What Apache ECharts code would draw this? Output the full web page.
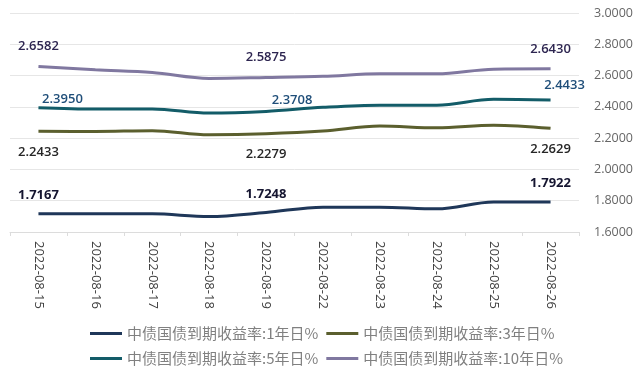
<!DOCTYPE html>
<html>
<head>
<meta charset="utf-8">
<script src="https://cdn.jsdelivr.net/npm/echarts@6/dist/echarts.min.js"></script>
<style>html,body{margin:0;padding:0;background:#fff;}#c{width:640px;height:373px;}</style>
</head>
<body>
<div id="c"></div>
<script>
var dates = ['2022-08-15','2022-08-16','2022-08-17','2022-08-18','2022-08-19','2022-08-22','2022-08-23','2022-08-24','2022-08-25','2022-08-26'];
var y1 = [1.7167, 1.7170, 1.7165, 1.6990, 1.7248, 1.7590, 1.7590, 1.7480, 1.7920, 1.7922];
var y3 = [2.2433, 2.2430, 2.2480, 2.2220, 2.2279, 2.2450, 2.2780, 2.2660, 2.2830, 2.2629];
var y5 = [2.3950, 2.3860, 2.3860, 2.3600, 2.3708, 2.3970, 2.4110, 2.4110, 2.4480, 2.4433];
var y10 = [2.6582, 2.6370, 2.6200, 2.5820, 2.5875, 2.5950, 2.6110, 2.6110, 2.6410, 2.6430];
var names = ['中债国债到期收益率:1年日%','中债国债到期收益率:3年日%','中债国债到期收益率:5年日%','中债国债到期收益率:10年日%'];
var yTicks = [1.6, 1.8, 2.0, 2.2, 2.4, 2.6, 2.8, 3.0];
var labelIdx = [0, 4, 9];

function mk(vals, labelCfg) {
  return vals.map(function (v, i) {
    var k = labelIdx.indexOf(i);
    if (k < 0) return v;
    var lc = {show: true};
    if (labelCfg.offsets) lc.offset = labelCfg.offsets[k];
    return {value: v, label: lc};
  });
}
function labelStyle(color, pos, dist, weight) {
  return {
    show: false, position: pos, distance: dist, color: color,
    fontFamily: 'Open Sans', fontSize: 13, fontWeight: weight,
    formatter: function (p) { return Number(p.value).toFixed(4); }
  };
}
var colors = ['#1f3759', '#5b5f2e', '#135c68', '#8078a0'];

var chart = echarts.init(document.getElementById('c'), null, {renderer: 'canvas'});
chart.setOption({
  animation: false,
  backgroundColor: '#ffffff',
  grid: {left: 10, right: 61, top: 13, bottom: 141},
  legend: [
    {data: [names[0], names[1]], left: 85, top: 321, icon: 'rect', itemWidth: 32, itemHeight: 3, itemGap: 8,
     textStyle: {fontFamily: 'Noto Sans CJK SC', fontSize: 15, color: '#808080'}},
    {data: [names[2], names[3]], left: 85, top: 346, icon: 'rect', itemWidth: 32, itemHeight: 3, itemGap: 8,
     textStyle: {fontFamily: 'Noto Sans CJK SC', fontSize: 15, color: '#808080'}}
  ],
  xAxis: {
    type: 'category', data: dates, boundaryGap: true,
    axisLine: {show: true, lineStyle: {color: '#dcdcdc', width: 1}},
    axisTick: {show: true, length: 4, lineStyle: {color: '#dcdcdc'}},
    axisLabel: {rotate: -90, interval: 0, margin: 9, color: '#404040', fontFamily: 'Open Sans', fontSize: 13}
  },
  yAxis: {
    type: 'value', position: 'right', min: 1.6, max: 3.0, interval: 0.2,
    axisLine: {show: false}, axisTick: {show: false},
    splitLine: {lineStyle: {color: '#e6e6e6', width: 1}},
    axisLabel: {margin: 15, color: '#666666', fontFamily: 'Open Sans', fontSize: 12.5,
      formatter: function (v) { return v.toFixed(4); }}
  },
  series: [
    {name: names[0], type: 'line', data: mk(y1, {}), smooth: 0.35, symbol: 'circle', symbolSize: 0, showSymbol: true,
     lineStyle: {color: colors[0], width: 3}, itemStyle: {color: colors[0]},
     label: labelStyle('#151530', 'top', 12, 700)},
    {name: names[1], type: 'line', data: mk(y3, {}), smooth: 0.35, symbol: 'circle', symbolSize: 0, showSymbol: true,
     lineStyle: {color: colors[1], width: 3}, itemStyle: {color: colors[1]},
     label: labelStyle('#262626', 'bottom', 14.5, 600)},
    {name: names[2], type: 'line', data: mk(y5, {offsets: [[24, -1.5], [26, -5], [14, -8.5]]}), smooth: 0.35, symbol: 'circle', symbolSize: 0, showSymbol: true,
     lineStyle: {color: colors[2], width: 3}, itemStyle: {color: colors[2]},
     label: labelStyle('#1f4e79', 'top', 0, 600)},
    {name: names[3], type: 'line', data: mk(y10, {}), smooth: 0.35, symbol: 'circle', symbolSize: 0, showSymbol: true,
     lineStyle: {color: colors[3], width: 3}, itemStyle: {color: colors[3]},
     label: labelStyle('#2d2550', 'top', 13.5, 600)}
  ]
});
</script>
</body>
</html>
